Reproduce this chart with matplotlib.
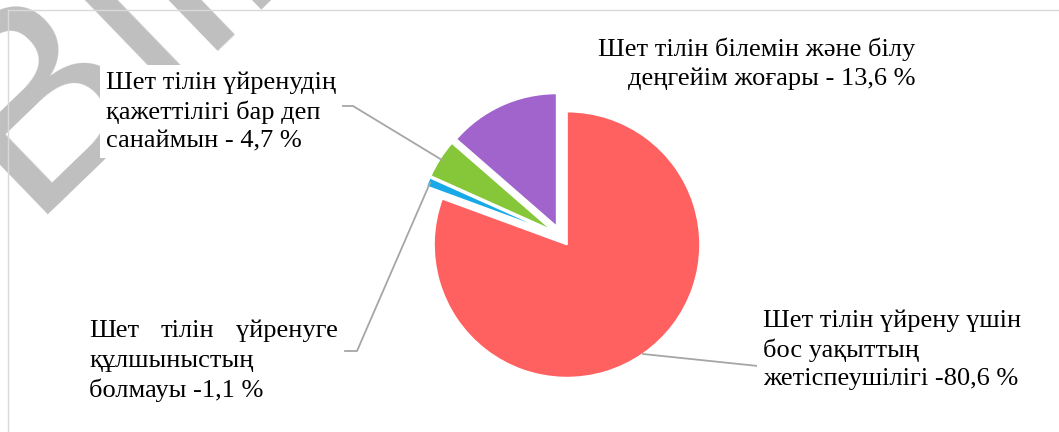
import matplotlib
matplotlib.use("Agg")
import matplotlib.pyplot as plt
from matplotlib.lines import Line2D

# ---- data ----
categories = [
    "Шет тілін үйрену үшін\nбос уақыттың\nжетіспеушілігі -80,6 %",
    "Шет тілін үйренуге\nқұлшыныстың\nболмауы -1,1 %",
    "Шет тілін үйренудің\nқажеттілігі бар деп\nсанаймын - 4,7 %",
    "Шет тілін білемін және білу\nдеңгейім жоғары - 13,6 %",
]
values = [80.6, 1.1, 4.7, 13.6]
colors = ["#FF6161", "#17A9E8", "#86C73A", "#A064CC"]

W, H = 1059, 432
fig = plt.figure(figsize=(W / 100, H / 100), dpi=100)
ax = fig.add_axes([0, 0, 1, 1])

def Y(y):
    return H - y

FONT = ["Liberation Serif", "DejaVu Serif"]
FS = 19
BOX = dict(facecolor="white", edgecolor="none", pad=4.5)

# watermark (behind labels)
ax.text(26, Y(214), "Bilim", rotation=44, rotation_mode="anchor",
        ha="left", va="baseline", fontsize=195, color="#BFBFBF",
        family=["Liberation Sans", "DejaVu Sans"], zorder=1)

# pie
ax.pie(values, colors=colors, startangle=90, counterclock=False,
       center=(561, Y(236)), radius=133, explode=[10.5] * len(values),
       wedgeprops=dict(linewidth=1.2, edgecolor="white", zorder=2), frame=True)

ax.set_xlim(0, W)
ax.set_ylim(0, H)
ax.set_aspect("equal")
ax.axis("off")

# frame lines (chart area border)
fig.add_artist(Line2D([8 / W, 8 / W], [0, Y(10) / H], color="#D9D9D9", lw=1.0))
fig.add_artist(Line2D([8 / W, 1.0], [Y(10) / H, Y(10) / H], color="#D9D9D9", lw=1.0))

# leader lines
lc = "#A6A6A6"
lw = 1.3
ax.plot([643, 758], [Y(354), Y(366)], color=lc, lw=lw, zorder=3)
ax.plot([345, 357, 430], [Y(351), Y(351), Y(183)], color=lc, lw=lw, zorder=3)
ax.plot([343, 353, 442], [Y(106), Y(106), Y(160)], color=lc, lw=lw, zorder=3)

ls = 1.35
tk = dict(fontsize=FS, family=FONT, zorder=5)
# red label
ax.text(763, Y(385), categories[0], ha="left", va="baseline",
        linespacing=ls, bbox=BOX, **tk)
# blue label (first line justified)
l1 = categories[1].split("\n")
w1 = l1[0].split(" ")
ax.text(89, Y(337), w1[0], ha="left", va="baseline", **tk)
ax.text(187, Y(337), w1[1], ha="center", va="baseline", **tk)
ax.text(338, Y(337), w1[2], ha="right", va="baseline", **tk)
ax.text(89, Y(397), "\n".join(l1[1:]), ha="left", va="baseline",
        linespacing=ls, **tk)
# green label
ax.text(106, Y(147), categories[2], ha="left", va="baseline",
        linespacing=ls, bbox=BOX, **tk)
# purple label
ax.text(915, Y(85), categories[3], ha="right", va="baseline",
        linespacing=ls, multialignment="right", bbox=BOX, **tk)

fig.savefig("out.png", dpi=100)
